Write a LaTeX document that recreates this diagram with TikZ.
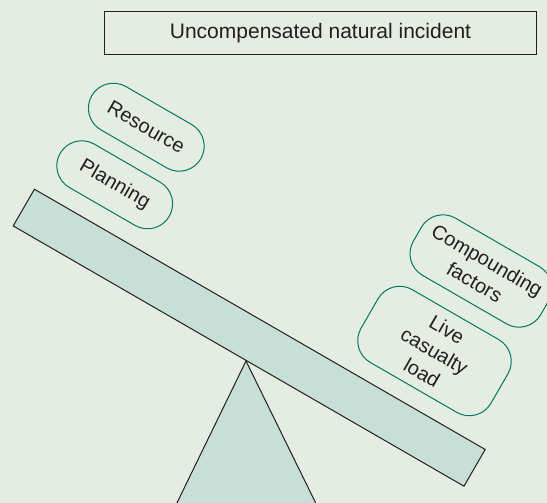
\documentclass[tikz,border=0pt]{standalone}
\usepackage{fontspec}
\setmainfont{Liberation Sans}
\definecolor{bg}{RGB}{229,237,227}
\definecolor{beamfill}{RGB}{200,223,215}
\definecolor{pillline}{RGB}{0,122,92}
\definecolor{ink}{RGB}{35,31,32}
\begin{document}
\begin{tikzpicture}[x=1pt,y=-1pt,
  pill/.style={draw=pillline, line width=1pt, rounded corners=25pt,
    rotate=-30, align=center, text=ink, inner sep=0pt,
    font=\fontsize{20}{25}\selectfont},
  solidpart/.style={draw=ink, line width=1pt, fill=beamfill, line join=miter},
  titlebox/.style={draw=ink, line width=1pt, text=ink, inner sep=0pt,
    minimum width=432pt, minimum height=43pt,
    font=\fontsize{21}{25}\selectfont}]
% page and clipping frame
\fill[bg] (0,0) rectangle (547,503);
\useasboundingbox (0,0) rectangle (547,503);
\clip (0,0) rectangle (547,503);

% heading
\node[titlebox] (title) at (320.5,33) {Uncompensated natural incident};

% fulcrum
\coordinate (apex) at (246,361);
\coordinate (baseL) at (173.5,510);
\coordinate (baseR) at (319.1,510);
\draw[solidpart] (apex) -- (baseL) -- (baseR) -- cycle;

% tilted beam
\node[solidpart, rectangle, rotate=-30, minimum width=520.5pt,
  minimum height=42.4pt, inner sep=0pt] (beam) at (249.2,337.7) {};

% loads on the raised end
\node[pill, minimum width=126pt, minimum height=50pt] (res) at (146.3,127.2) {Resource};
\node[pill, minimum width=126pt, minimum height=50pt] (plan) at (114.7,184.8) {Planning};

% loads on the lowered end
\node[pill, minimum width=147pt, minimum height=66pt] (comp) at (481,271) {Compounding\\factors};
\node[pill, minimum width=150pt, minimum height=84pt] (live) at (434.5,351) {Live\\casualty\\load};
\end{tikzpicture}
\end{document}
